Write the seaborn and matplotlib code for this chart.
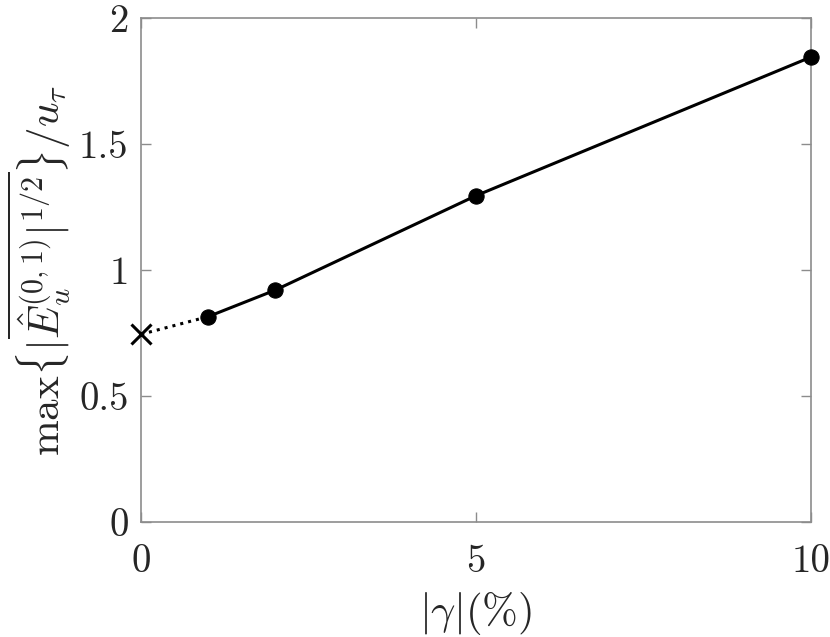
import matplotlib
matplotlib.use("Agg")
import matplotlib.pyplot as plt
import seaborn as sns
import pandas as pd

# measured values
gamma = [1, 2, 5, 10]
e_max = [0.815, 0.92, 1.295, 1.845]
gamma_zero = [0, 1]
e_zero = [0.745, 0.815]

x_ticks = [0, 5, 10]
y_ticks = [0, 0.5, 1, 1.5, 2]
y_tick_labels = ["0", "0.5", "1", "1.5", "2"]

sns.set_style("ticks")
plt.rcParams['font.family'] = ['cmr10', 'DejaVu Serif']
plt.rcParams['mathtext.fontset'] = 'cm'
plt.rcParams['axes.unicode_minus'] = False

df = pd.DataFrame({"gamma": gamma, "e": e_max})

fig = plt.figure(figsize=(8.3, 6.37), dpi=100)
ax = fig.add_axes([0.170, 0.1805, 0.807, 0.7912])

# dotted link to the smooth-wall value
ax.plot(gamma_zero, e_zero, color='black', linestyle=':', linewidth=2.2)
ax.plot(gamma_zero[:1], e_zero[:1], color='black', marker='x', markersize=14,
        markeredgewidth=2.2, linestyle='none', clip_on=False, zorder=5)

sns.lineplot(data=df, x="gamma", y="e", ax=ax, color='black', linewidth=2.2,
             marker='o', markersize=11, markeredgecolor='black', clip_on=False,
             zorder=5)

ax.set_xlim(0, 10)
ax.set_ylim(0, 2)
ax.set_xticks(x_ticks)
ax.set_xticklabels([str(t) for t in x_ticks])
ax.set_yticks(y_ticks)
ax.set_yticklabels(y_tick_labels)

for s in ax.spines.values():
    s.set_visible(True)
    s.set_color('#8c8c8c')
    s.set_linewidth(1.2)
ax.tick_params(direction='in', length=7, width=1.0, color='#8c8c8c',
               labelsize=28, labelcolor='#262626', top=True, right=True, pad=9)
ax.tick_params(axis='x', pad=16)

ax.set_xlabel(r'$|\gamma|(\%)$', fontsize=31, color='#262626', labelpad=7)
ax.set_ylabel(r'$\max\{|\overline{\hat{E}_u^{(0,1)}|^{1/2}}\}/u_\tau$',
              fontsize=31, color='#262626', labelpad=4)

fig.savefig("out.png", dpi=100)
